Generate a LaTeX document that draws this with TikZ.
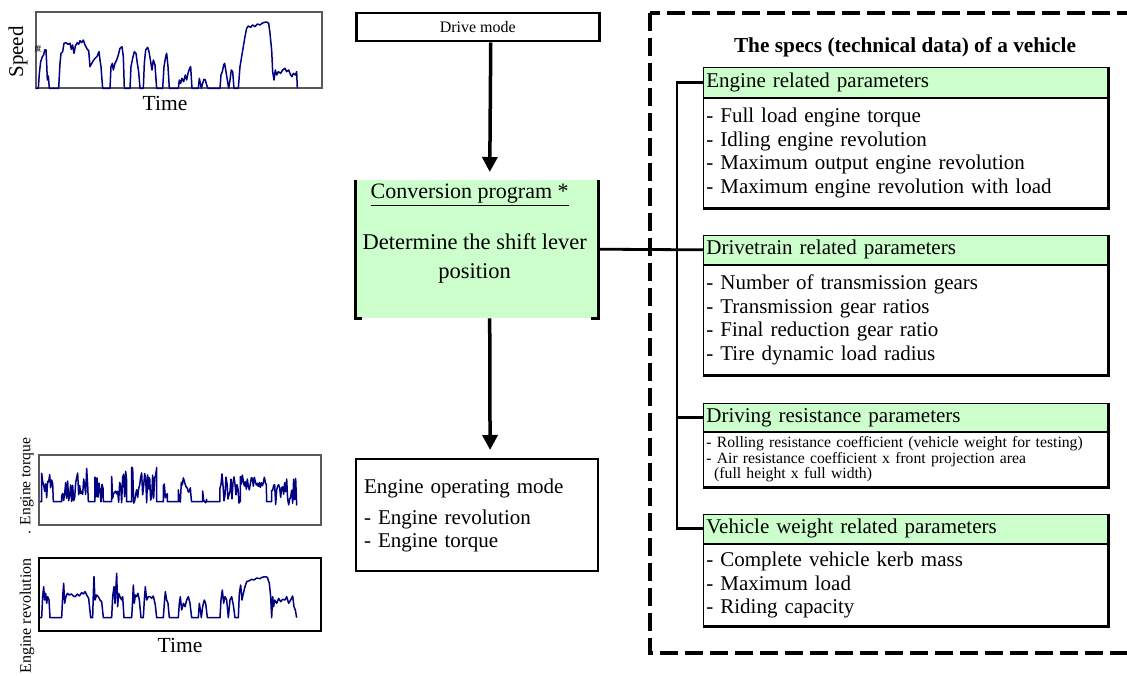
\documentclass[tikz,border=0pt]{standalone}
\usepackage{fontspec}
\setmainfont{Liberation Serif}
\newfontfamily\cjk{Noto Sans CJK SC}
\usetikzlibrary{arrows.meta, positioning, calc}

\definecolor{hgreen}{RGB}{204,255,204}
\definecolor{plotblue}{RGB}{0,0,128}

\begin{document}
\begin{tikzpicture}[
        x = 1pt, y = -1pt, % pixel grid, y going down
        > = {Triangle[width=15pt,length=15pt]},
        flow/.style = {->, line width=3.5pt},
        tree/.style = {line width=2.8pt},
        frame/.style = {draw=black!65, line width=1.2pt},
        curve/.style = {draw=plotblue, line width=1.5pt, line join=round},
        head/.style = {draw, fill=hgreen, line width=0.7pt, anchor=north west,
            minimum width=405pt, text width=399pt, inner xsep=3pt,
            font=\fontsize{21}{23}\selectfont},
        body/.style = {draw, line width=0.7pt, anchor=north west,
            minimum width=405pt, text width=399pt, inner xsep=3pt,
            font=\fontsize{21}{23.5}\selectfont},
        shade/.style = {line width=3pt}
    ]
    \useasboundingbox (0,0) rectangle (1127,676);
    \pgfmathsetseed{11}

    % --- left: the three small plots
    \draw[frame] (36,12) rectangle (322,88);
    \node[rotate=90, font=\fontsize{21}{21}\selectfont] (speedlabel) at (18,52) {Speed};
    \node[font=\cjk\fontsize{7}{7}\selectfont] (speedmark) at (38,49) {度};
    \node[font=\fontsize{21.5}{21.5}\selectfont] (timetop) at (165,103) {Time};
    \begin{scope}[scale=1/3]
        \draw[curve] plot coordinates {(107,265) (115,265) (118,220) (122,185) (127,170) (131,165) (134,150) (138,150) (140,190) (142,240) (145,228) (148,265)
            (176,265) (180,190) (183,160) (188,155) (192,130) (198,128) (204,133) (210,130) (214,148) (218,135) (222,160) (226,138) (232,128) (236,133) (240,122) (245,128) (250,120) (255,135) (262,148) (266,152) (270,200)
            (278,185) (285,175) (292,168) (297,155) (300,180) (303,200) (308,265)
            (330,265) (333,200) (337,190) (340,210) (345,190) (350,180) (355,165) (360,145) (366,140) (370,170) (373,265)
            (390,265) (393,200) (398,175) (403,155) (408,160) (412,190) (416,215) (420,265)
            (430,265) (433,190) (437,150) (443,142) (447,155) (452,185) (456,210) (460,180) (465,195) (470,265)
            (488,265) (492,200) (497,170) (500,160) (504,200) (508,265)
            (535,265) (538,240) (542,250) (546,235) (551,245) (556,225) (560,240) (564,220) (569,205) (572,200) (576,265)
            (595,265) (598,235) (601,250) (604,265) (608,250) (612,238) (616,240) (620,255) (624,265)
            (660,265) (663,225) (667,215) (671,195) (674,190) (678,215) (682,240) (686,265) (690,240) (694,210) (698,215) (702,265)
            (715,265) (720,200) (725,170) (730,140) (735,110) (740,85) (745,78) (752,82) (758,75) (765,80) (772,72) (780,75) (786,70) (793,67) (800,66) (806,70) (810,100) (815,150) (818,215) (822,240) (826,210) (830,225) (835,215) (842,220) (848,210) (855,205) (860,215) (866,210) (872,225) (876,230) (880,220) (886,225) (890,215) (892,265)};
    \end{scope}

    \draw[frame] (39,455) rectangle (321,525);
    \draw[line width=1.2pt] (39,558) rectangle (321,631);
    \node[rotate=90, font=\fontsize{15.5}{15.5}\selectfont] (torquelabel) at (27,486) {. Engine torque};
    \node[rotate=90, font=\fontsize{16}{16}\selectfont] (revlabel) at (27,616) {Engine revolution};
    \node[font=\fontsize{21.5}{21.5}\selectfont] (timebottom) at (180,645) {Time};
    \begin{scope}[shift={(0,440)}, scale=1/3]
        \draw[curve] (120,185)
            \foreach \a/\c/\b/\base/\h in {125/128/160/190/95, 185/188/265/190/115, 285/288/310/190/95, 335/338/380/190/100,
                395/398/470/190/110, 490/493/502/190/85, 535/538/575/190/80, 608/611/620/190/40, 660/663/718/190/95,
                721/724/800/150/50, 815/818/890/195/80}
            { -- (\a,185) \foreach \x in {\a,\c,...,\b} { -- (\x,{\base-\h*rnd}) } -- (\b,185) };
        \draw[curve] plot coordinates {(120,533) (125,533) (128,470) (131,440) (134,480) (137,460) (140,490) (143,470) (147,480) (150,533)
            (185,533) (188,470) (191,430) (194,490) (198,470) (202,460) (208,465) (214,462) (220,468) (226,470) (232,462) (238,468) (245,458) (250,462) (255,455) (260,465) (266,475) (272,533)
            (278,533) (280,460) (282,410) (285,480) (290,465) (295,470) (300,480) (305,485) (310,533)
            (335,533) (338,470) (342,440) (345,490) (350,400) (353,500) (356,460) (360,470) (365,480) (368,470) (372,533)
            (395,533) (398,480) (400,435) (403,490) (406,465) (410,470) (414,460) (418,480) (423,533)
            (430,533) (433,480) (436,440) (440,480) (445,470) (450,470) (455,475) (460,468) (466,495) (470,533)
            (490,533) (493,490) (496,455) (500,480) (504,490) (508,533)
            (535,533) (538,490) (541,470) (545,510) (550,490) (555,500) (560,480) (565,470) (570,490) (575,533)
            (595,533) (598,490) (601,510) (604,533) (608,500) (613,480) (617,490) (622,533)
            (660,533) (663,480) (667,450) (671,490) (675,470) (680,480) (685,533) (690,480) (695,470) (700,495) (705,533)
            (715,533) (718,460) (722,435) (726,480) (730,460) (735,440) (740,425) (748,422) (755,418) (762,420) (770,414) (780,416) (786,412) (795,410) (802,412) (808,430) (812,470) (815,533)
            (818,470) (821,500) (824,480) (830,490) (836,475) (842,485) (848,478) (855,480) (860,470) (866,490) (872,480) (878,468) (882,500) (886,510) (890,533)};
    \end{scope}

    % --- middle: the flow
    \node[draw, line width=2.5pt, anchor=north west, minimum width=243pt, minimum height=28pt,
        font=\fontsize{16}{16}\selectfont] (drive) at (355,12) {Drive mode};
    \node[fill=hgreen, anchor=north west, minimum width=243pt, minimum height=138pt] (conv) at (355,180) {};
    \draw[line width=3pt] ([xshift=7pt]conv.south west) -- (conv.south west) -- (conv.north west);
    \draw[line width=3pt] ([xshift=-7pt]conv.south east) -- (conv.south east) -- (conv.north east);
    \node[font=\fontsize{22}{22}\selectfont] (convtitle) at ($(conv.north)+(-7,15)$) {\underline{Conversion program *}};
    \node[align=center, font=\fontsize{22.5}{29}\selectfont] (convtext) at ($(conv.north)+(-2,78)$) {Determine the shift lever\\position};
    \node[draw, line width=2.2pt, anchor=north west, minimum width=242pt, minimum height=112pt,
        text width=226pt, inner xsep=8pt, align=left, font=\fontsize{21}{23}\selectfont] (engmode) at (355,458)
        {Engine operating mode\\[8pt]- Engine revolution\\- Engine torque};

    \draw[flow, shorten >=8pt] ([xshift=13pt]drive.south) -- ([xshift=13pt]conv.north);
    \draw[flow, shorten >=8pt] ([xshift=13pt]conv.south) -- ([xshift=13pt]engmode.north);

    % --- right: the specs of the vehicle
    \draw[line width=4.5pt, dash pattern=on 18pt off 7pt] (650,13) rectangle (1140,653);
    \node[font=\bfseries\fontsize{21.3}{21.3}\selectfont] (spectitle) at (905,47) {The specs (technical data) of a vehicle};

    \node[head, minimum height=30pt] (engh) at (703,67) {Engine related parameters};
    \node[body, minimum height=110pt] (engb) at (engh.south west)
        {- Full load engine torque\\- Idling engine revolution\\- Maximum output engine revolution\\- Maximum engine revolution with load};
    \node[head, minimum height=29pt] (dth) at (703,235) {Drivetrain related parameters};
    \node[body, minimum height=110pt] (dtb) at (dth.south west)
        {- Number of transmission gears\\- Transmission gear ratios\\- Final reduction gear ratio\\- Tire dynamic load radius};
    \node[head, minimum height=28pt] (drh) at (703,403) {Driving resistance parameters};
    \node[body, minimum height=55pt, font=\fontsize{15.7}{15.5}\selectfont] (drb) at (drh.south west)
        {- Rolling resistance coefficient (vehicle weight for testing)\\- Air resistance coefficient x front projection area\\\ \,(full height x full width)};
    \node[head, minimum height=29pt] (vwh) at (703,514) {Vehicle weight related parameters};
    \node[body, minimum height=82pt] (vwb) at (vwh.south west)
        {- Complete vehicle kerb mass\\- Maximum load\\- Riding capacity};

    \draw[shade] (engh.north east) -- (engb.south east) -- (engb.south west);
    \draw[shade] (dth.north east) -- (dtb.south east) -- (dtb.south west);
    \draw[shade] (drh.north east) -- (drb.south east) -- (drb.south west);
    \draw[shade] (vwh.north east) -- (vwb.south east) -- (vwb.south west);

    \draw[tree] (engh.west) -- ++(-26,0) coordinate (spine) |- (vwh.west);
    \draw[tree] (spine |- drh.west) -- (drh.west);
    \draw[tree] (conv.east) -- (dth.west);

\end{tikzpicture}
\end{document}
